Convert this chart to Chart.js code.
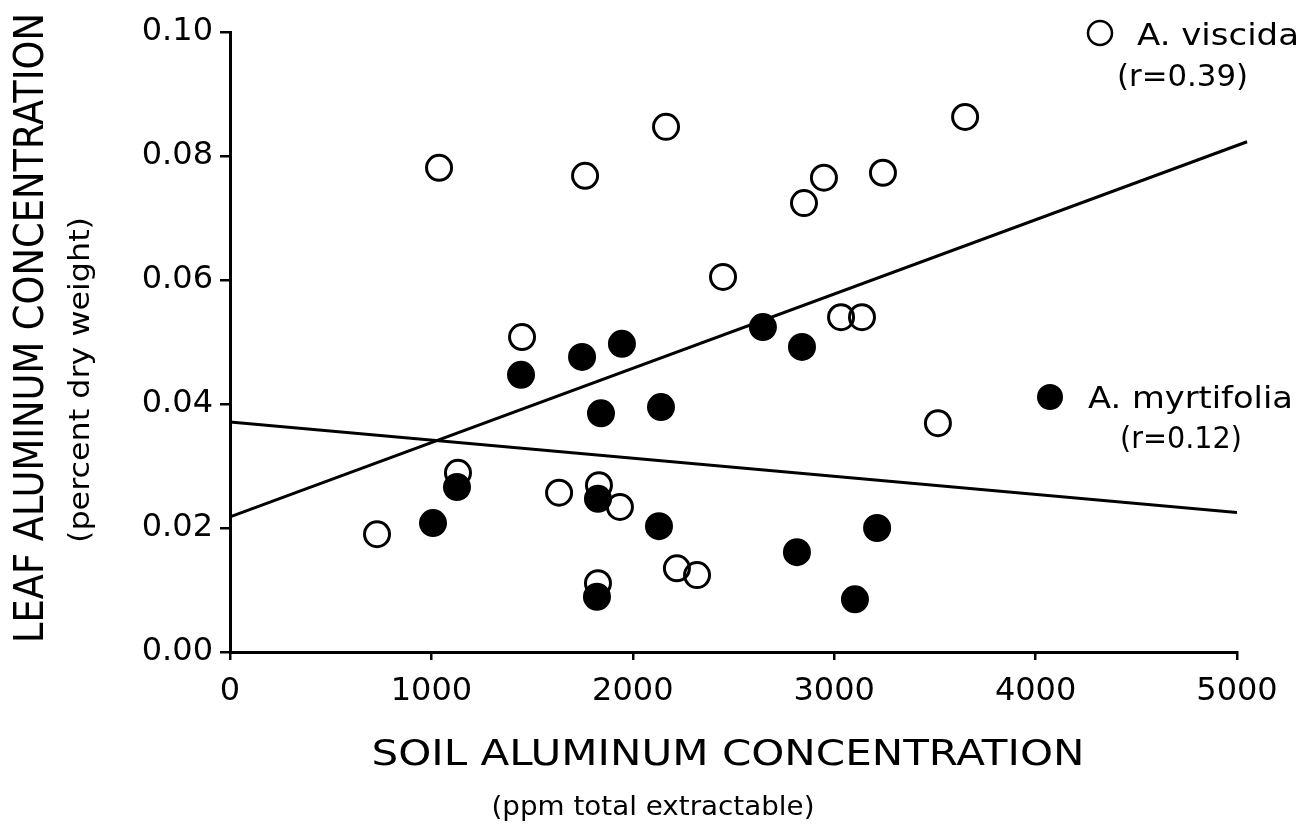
<!DOCTYPE html>
<html>
<head>
<meta charset="utf-8">
<script src="https://cdn.jsdelivr.net/npm/chart.js@4/dist/chart.umd.min.js"></script>
<style>
  html, body { margin: 0; padding: 0; background: #fff; }
  #wrap { width: 1298px; height: 825px; position: relative; }
</style>
</head>
<body>
<div id="wrap"><canvas id="chart"></canvas></div>
<script>
// A. viscida (open circles)
const viscidaX = [730, 1038, 1132, 1450, 1634, 1763, 1832, 1827, 1936, 2165, 2219, 2319, 2448, 2850, 2949, 3034, 3138, 3242, 3515, 3650];
const viscidaY = [0.0190, 0.0781, 0.0289, 0.0508, 0.0257, 0.0768, 0.0269, 0.0111, 0.0234, 0.0847, 0.0135, 0.0124, 0.0605, 0.0724, 0.0765, 0.0540, 0.0540, 0.0773, 0.0369, 0.0863];

// A. myrtifolia (filled circles)
const myrtX = [1008, 1127, 1445, 1748, 1946, 1842, 2140, 2130, 1827, 1822, 2646, 2840, 2815, 3213, 3103];
const myrtY = [0.0208, 0.0266, 0.0447, 0.0476, 0.0497, 0.0385, 0.0395, 0.0203, 0.0247, 0.0089, 0.0524, 0.0492, 0.0161, 0.0200, 0.0085];

// regression lines
const viscidaFitX = [0, 5050];
const viscidaFitY = [0.0218, 0.0823];
const myrtFitX = [0, 5000];
const myrtFitY = [0.0371, 0.0225];

const xTicks = [0, 1000, 2000, 3000, 4000, 5000];
const yTicks = [0, 0.02, 0.04, 0.06, 0.08, 0.10];

const toPts = (xs, ys) => xs.map((x, i) => ({ x: x, y: ys[i] }));

// draw text squeezed/stretched to a given width
function fitText(ctx, text, x, y, width, font, align, angle) {
    ctx.save();
    ctx.font = font;
    const w = ctx.measureText(text).width;
    ctx.translate(x, y);
    if (angle) ctx.rotate(angle);
    ctx.scale(width / w, 1);
    ctx.textAlign = align || 'center';
    ctx.textBaseline = 'alphabetic';
    ctx.fillStyle = '#000';
    ctx.fillText(text, 0, 0);
    ctx.restore();
}

const FONT = '"DejaVu Sans", sans-serif';

const textPlugin = {
    id: 'texts',
    afterDraw(chart) {
        const ctx = chart.ctx;
        // axis titles
        fitText(ctx, 'SOIL ALUMINUM CONCENTRATION', 728, 765, 713, '35px ' + FONT);
        fitText(ctx, '(ppm total extractable)', 653, 815, 323, '27px ' + FONT);
        fitText(ctx, 'LEAF ALUMINUM CONCENTRATION', 43, 328, 630, '40px ' + FONT, 'center', -Math.PI / 2);
        fitText(ctx, '(percent dry weight)', 89, 380, 326, '28px ' + FONT, 'center', -Math.PI / 2);

        // legend
        ctx.save();
        ctx.lineWidth = 2.5;
        ctx.strokeStyle = '#000';
        ctx.beginPath();
        ctx.arc(1100, 33, 12, 0, Math.PI * 2);
        ctx.stroke();
        ctx.fillStyle = '#000';
        ctx.beginPath();
        ctx.arc(1050, 397, 13, 0, Math.PI * 2);
        ctx.fill();
        ctx.restore();
        fitText(ctx, 'A. viscida', 1137, 45, 162, '31px ' + FONT, 'left');
        fitText(ctx, '(r=0.39)', 1117, 86, 131, '31px ' + FONT, 'left');
        fitText(ctx, 'A. myrtifolia', 1088, 408, 205, '31px ' + FONT, 'left');
        fitText(ctx, '(r=0.12)', 1120, 448, 122, '31px ' + FONT, 'left');
    }
};

new Chart(document.getElementById('chart'), {
    type: 'scatter',
    data: {
        datasets: [
            {
                label: 'A. viscida fit',
                data: toPts(viscidaFitX, viscidaFitY),
                showLine: true, borderColor: '#000', borderWidth: 3,
                pointRadius: 0, clip: false, order: 3
            },
            {
                label: 'A. myrtifolia fit',
                data: toPts(myrtFitX, myrtFitY),
                showLine: true, borderColor: '#000', borderWidth: 3,
                pointRadius: 0, order: 3
            },
            {
                label: 'A. viscida',
                data: toPts(viscidaX, viscidaY),
                pointRadius: 12.5, pointBorderWidth: 3,
                borderColor: '#000', backgroundColor: 'rgba(0,0,0,0)', order: 2
            },
            {
                label: 'A. myrtifolia',
                data: toPts(myrtX, myrtY),
                pointRadius: 12.5, pointBorderWidth: 3,
                borderColor: '#000', backgroundColor: '#000', order: 1
            }
        ]
    },
    options: {
        responsive: true, maintainAspectRatio: false, animation: false,
        layout: { padding: { top: 32, right: 61, left: 0, bottom: 0 } },
        plugins: { legend: { display: false }, tooltip: { enabled: false } },
        scales: {
            x: {
                type: 'linear', min: 0, max: 5000,
                afterBuildTicks: s => { s.ticks = xTicks.map(v => ({ value: v })); },
                afterFit: s => { s.height = 173; },
                ticks: { color: '#000', font: { family: 'DejaVu Sans', size: 32 }, padding: 12, maxRotation: 0, callback: v => String(v) },
                grid: { drawOnChartArea: false, drawTicks: true, tickLength: 8, color: '#000', lineWidth: 2.5 },
                border: { color: '#000', width: 3 }
            },
            y: {
                type: 'linear', min: 0, max: 0.10,
                afterBuildTicks: s => { s.ticks = yTicks.map(v => ({ value: v })); },
                afterFit: s => { s.width = 230; },
                ticks: { color: '#000', font: { family: 'DejaVu Sans', size: 32 }, padding: 7, callback: v => v.toFixed(2) },
                grid: { drawOnChartArea: false, drawTicks: true, tickLength: 10, color: '#000', lineWidth: 2.5 },
                border: { color: '#000', width: 3 }
            }
        }
    },
    plugins: [textPlugin]
});
</script>
</body>
</html>
